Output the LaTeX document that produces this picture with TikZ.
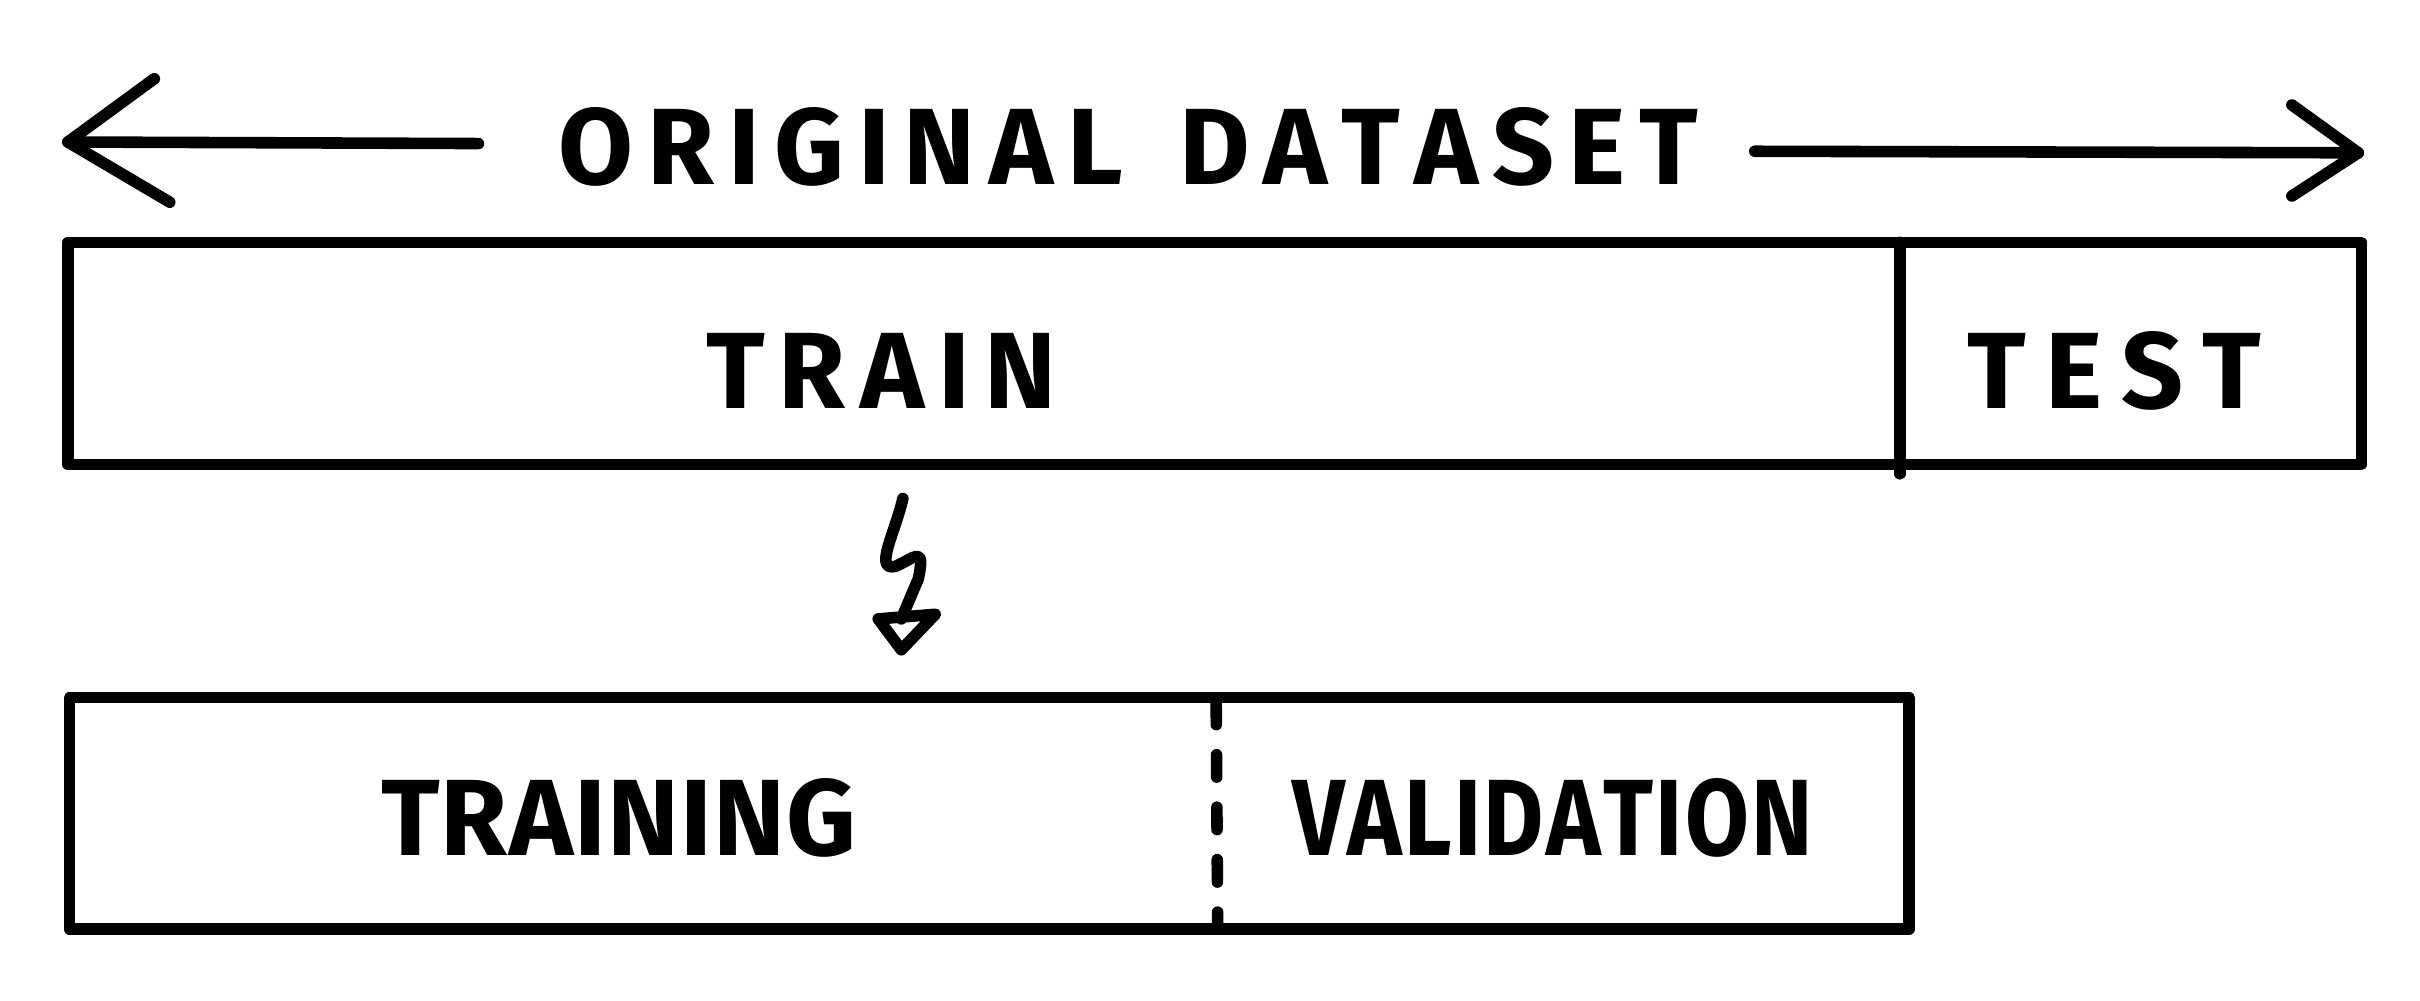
\documentclass[tikz,border=0pt]{standalone}
\usepackage{fontspec}
\usepackage{graphicx}
\setmainfont{Fira Sans}
\tikzset{
  x=0.1mm, y=-0.1mm,
  ink/.style={line width=0.75mm, line cap=round, line join=round, black},
  lbl/.style={inner sep=0pt, font=\fontsize{20pt}{22pt}\selectfont\bfseries},
  dividerdash/.style={ink, dash pattern=on 1.45mm off 1.95mm}
}
\begin{document}
\begin{tikzpicture}
\useasboundingbox (0,0) rectangle (1568,648);
% header arrows
\coordinate (la0) at (310,93);
\coordinate (la1) at (44,92);
\coordinate (lh1) at (100,51);
\coordinate (lh2) at (110,131);
\draw[ink] (la0) -- (la1);
\draw[ink] (lh1) -- (la1) -- (lh2);
\coordinate (ra0) at (1137,98);
\coordinate (ra1) at (1528,99);
\coordinate (rh1) at (1485,68);
\coordinate (rh2) at (1485,127);
\draw[ink] (ra0) -- (ra1);
\draw[ink] (rh1) -- (ra1) -- (rh2);
\node[lbl] (orig) at (731,95) {\makebox[73.8mm]{O\hfill R\hfill I\hfill G\hfill I\hfill N\hfill A\hfill L\hfill\hfill\hfill\hfill D\hfill A\hfill T\hfill A\hfill S\hfill E\hfill T}};
% top rectangle
\coordinate (t1) at (44,157);
\coordinate (t2) at (1530,301);
\draw[ink] (t1) rectangle (t2);
\coordinate (td1) at (1231,157);
\coordinate (td2) at (1231,307);
\draw[ink] (td1) -- (td2);
\node[lbl] (train) at (571,240) {\makebox[22.7mm]{T\hfill R\hfill A\hfill I\hfill N}};
\node[lbl] (test) at (1370,240) {\makebox[19mm]{T\hfill E\hfill S\hfill T}};
% squiggly arrow
\coordinate (s0) at (585,323);
\coordinate (s1) at (584,401);
\draw[ink] (s0) .. controls (580,345) and (566,370) .. (580,367)
  .. controls (592,362) and (600,352) .. (595,375) -- (s1);
\coordinate (h1) at (569,401);
\coordinate (h2) at (606,398);
\coordinate (h3) at (584,421);
\draw[ink] (h1) -- (h2) -- (h3) -- cycle;
% bottom rectangle
\coordinate (b1) at (45,452);
\coordinate (b2) at (1237,602);
\draw[ink] (b1) rectangle (b2);
\coordinate (bd1) at (788,455);
\coordinate (bd2) at (789,602);
\draw[dividerdash] (bd1) -- (bd2);
\node[lbl] (training) at (401,530) {\makebox[30.8mm]{T\hfill R\hfill A\hfill I\hfill N\hfill I\hfill N\hfill G}};
\node[lbl] (validation) at (1006,530) {\resizebox{33.7mm}{\height}{V\kern0.5pt A\kern0.5pt L\kern0.5pt I\kern0.5pt D\kern0.5pt A\kern0.5pt T\kern0.5pt I\kern0.5pt O\kern0.5pt N}};
\end{tikzpicture}
\end{document}
